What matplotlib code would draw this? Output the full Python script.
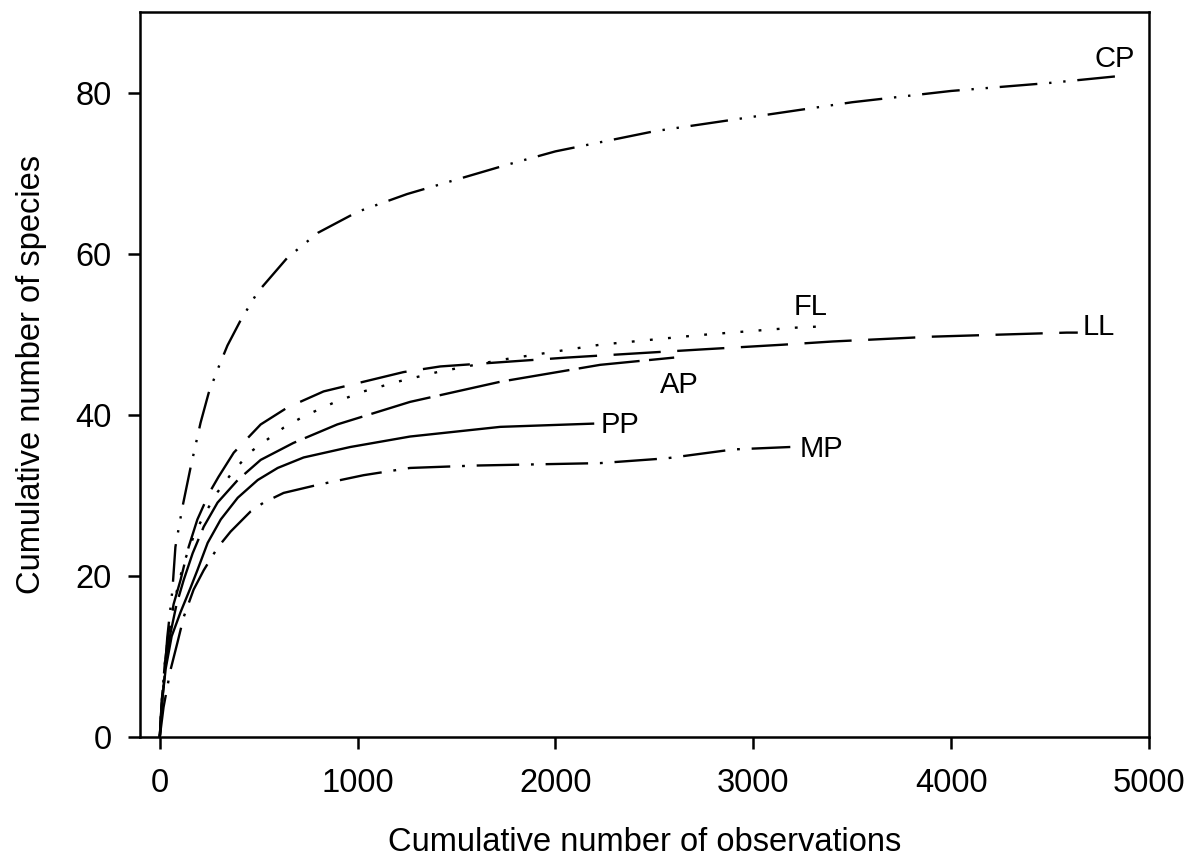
import matplotlib
matplotlib.use("Agg")
import matplotlib.pyplot as plt

plt.rcParams['font.family'] = ['Liberation Sans', 'DejaVu Sans']

# ---- data ----
cp_x = [0, 8, 19, 38, 64, 79, 115, 156, 206, 247, 292, 342, 408, 494, 645, 800, 1000, 1250, 1500, 1750, 2000, 2500, 3000, 3500, 4000, 4500, 4870]
cp_y = [0, 3.5, 6.2, 12.4, 18.3, 23.6, 28.6, 33.5, 39, 42.7, 45.6, 48.6, 51.7, 55.2, 59.5, 62.6, 65.2, 67.4, 69.2, 71.0, 72.7, 75.2, 77, 78.8, 80.2, 81.2, 82.1]

ll_x = [0, 10, 25, 45, 70, 105, 146, 190, 250, 297, 374, 444, 510, 645, 828, 1030, 1232, 1418, 2057, 2731, 3150, 3402, 3907, 4584, 4640]
ll_y = [0, 4.5, 9, 13, 16.5, 19.5, 23.6, 27, 30.3, 32.3, 35.3, 37.1, 38.8, 40.9, 42.9, 44.1, 45.3, 46, 47.1, 48.1, 48.7, 49.1, 49.7, 50.2, 50.2]

fl_x = [0, 10, 25, 45, 75, 120, 177, 232, 292, 368, 459, 525, 626, 727, 879, 1030, 1201, 1403, 1721, 2226, 2731, 3201, 3371]
fl_y = [0, 4.5, 9, 13, 17, 21.5, 25.3, 27.9, 30.4, 32.9, 35.4, 36.6, 38.4, 39.8, 41.5, 42.9, 44.1, 45.3, 46.8, 48.7, 49.9, 50.8, 51]

ap_x = [0, 12, 30, 55, 85, 121, 166, 222, 292, 394, 510, 675, 897, 1265, 1721, 2226, 2600]
ap_y = [0, 4.5, 9, 13, 16.5, 19.5, 22.8, 26.1, 29.1, 31.9, 34.4, 36.5, 38.8, 41.6, 44.1, 46.2, 47.1]

pp_x = [0, 12, 30, 60, 105, 155, 190, 242, 308, 394, 495, 596, 727, 963, 1265, 1721, 2190]
pp_y = [0, 4.5, 8.5, 12.5, 15.5, 18.5, 20.7, 24.1, 27.0, 29.7, 31.9, 33.4, 34.7, 36.0, 37.3, 38.5, 38.9]

mp_x = [0, 19, 54, 89, 121, 171, 222, 292, 358, 459, 525, 626, 798, 1030, 1265, 1600, 2226, 2563, 2900, 3187]
mp_y = [0, 3.7, 8.3, 11.7, 14.9, 18.3, 20.7, 23.5, 25.5, 28.0, 29.1, 30.3, 31.3, 32.5, 33.4, 33.7, 34.0, 34.6, 35.7, 36.0]

labels = ['CP', 'FL', 'LL', 'AP', 'PP', 'MP']
label_x = [4726, 3205, 4665, 2529, 2226, 3236]
label_y = [83.2, 52.4, 49.9, 42.7, 37.8, 34.8]

x_ticks = [0, 1000, 2000, 3000, 4000, 5000]
y_ticks = [0, 20, 40, 60, 80]

# ---- figure ----
fig = plt.figure(figsize=(11.92, 8.64), dpi=100)
ax = fig.add_axes([140/1192, 1 - 737/864, (1149-140)/1192, (737-12)/864])

lw = 1.7
ax.plot(cp_x, cp_y, color='black', lw=lw, dashes=(16, 5, 1, 5, 1, 5))
ax.plot(ll_x, ll_y, color='black', lw=lw, dashes=(20, 7))
ax.plot(fl_x, fl_y, color='black', lw=lw, dashes=(1.2, 6.5))
ax.plot(ap_x, ap_y, color='black', lw=lw, dashes=(26, 4))
ax.plot(pp_x, pp_y, color='black', lw=lw)
ax.plot(mp_x, mp_y, color='black', lw=lw, dashes=(18, 5, 1.2, 5))

for t, x, y in zip(labels, label_x, label_y):
    ax.text(x, y, t, fontsize=21, ha='left', va='baseline')

ax.set_xlim(-100, 5000)
ax.set_ylim(0, 90)
ax.set_xticks(x_ticks)
ax.set_yticks(y_ticks)
for s in ax.spines.values():
    s.set_linewidth(1.8)
ax.tick_params(axis='both', direction='out', length=8.5, width=1.8, labelsize=23.5, pad=12)
ax.tick_params(axis='x', pad=14)
ax.set_xlabel('Cumulative number of observations', fontsize=23.5, labelpad=20)
ax.set_ylabel('Cumulative number of species', fontsize=23.5, labelpad=20)

fig.savefig('out.png', dpi=100)
